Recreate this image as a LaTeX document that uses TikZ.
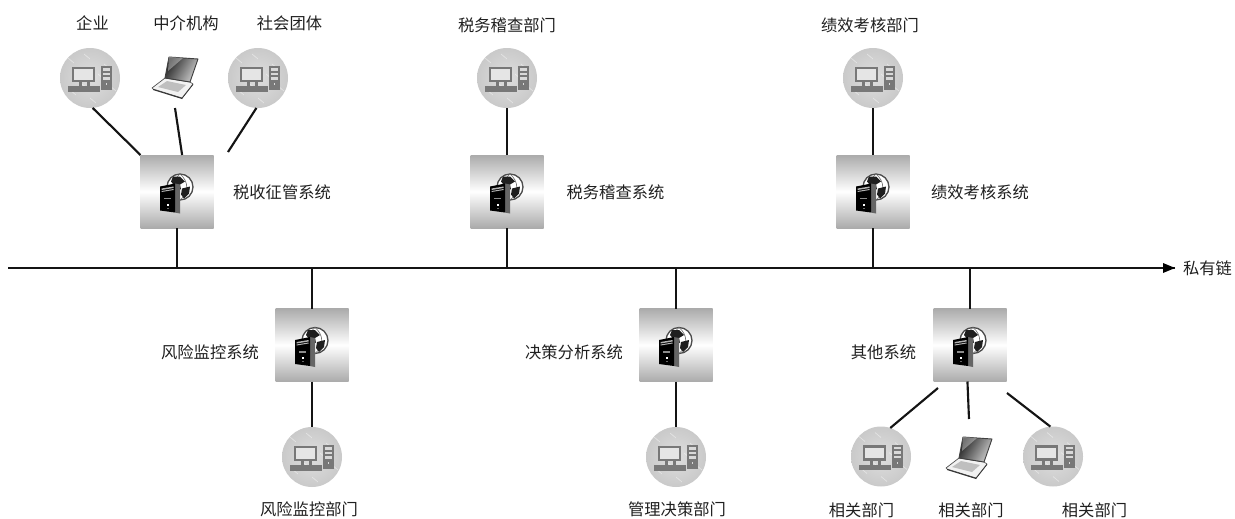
\documentclass[tikz,border=0pt]{standalone}
\usepackage{fontspec}
\setmainfont{Noto Sans CJK SC}
\usetikzlibrary{arrows.meta}
\definecolor{ink}{gray}{0.12}
\definecolor{iconc}{gray}{0.47}
\tikzset{
  x=0.75pt,y=-0.75pt,
  link/.style={line width=1.6pt,color=black!92},
  lbl/.style={font=\fontsize{12.2}{14}\selectfont,text=ink,inner sep=0pt},
  srvbox/.style={rectangle,minimum width=54.75pt,minimum height=54.75pt,inner sep=0pt,outer sep=0pt,
    top color=black!33,bottom color=black!33,middle color=white},
  pcbox/.style={circle,minimum size=45pt,inner sep=0pt,outer sep=0pt,inner color=black!13,outer color=black!21},
  lapbox/.style={rectangle,minimum width=34.5pt,minimum height=45pt,inner sep=0pt,outer sep=0pt},
  pics/servericon/.style={code={
    \fill[white] (3,-4.5) circle (13);
    \draw[black!70,line width=1pt] (3,-4.5) circle (13);
    \draw[black!55,line width=.5pt] (3,-17.5) .. controls (-6,-10) and (-6,1) .. (3,8.5);
    \draw[black!55,line width=.5pt] (3,-17.5) .. controls (12,-10) and (12,1) .. (3,8.5);
    \fill[black!88] (-4,-15) -- (3,-15) -- (8,-10) -- (3,-7) -- (4,-2) -- (-1,-4) -- (-6,-10) -- cycle;
    \fill[black!88] (5,-3) -- (13,-5) -- (12,2) -- (7,7) -- (4,3) -- cycle;
    \fill[black!60] (-2,-8) -- (3,-7) -- (3,22) -- (-2,21) -- cycle;
    \fill[black] (-17,-5) -- (-2,-8) -- (-2,21) -- (-17,19) -- cycle;
    \fill[black!30] (-15.5,-3) -- (-3.5,-5) -- (-3.5,-3.5) -- (-15.5,-1.5) -- cycle;
    \fill[black!30] (-15.5,-0.5) -- (-3.5,-2.5) -- (-3.5,-1.5) -- (-15.5,0.5) -- cycle;
    \fill[black!45] (-13,6) rectangle (-6,7.5);
    \fill[white] (-10.5,12) rectangle (-8.5,14);
    \fill[black!60] (-10.5,16) rectangle (-8.5,17);
  }},
  pics/pcicon/.style={code={
    \foreach \a/\b in {-22/-20,-6/-24,14/-14,20/8,-20/12,0/20,-8/6,8/-4}{
      \draw[white,opacity=.45,line width=.5pt] (\a,\b) -- ++(6,5);}
    \draw[iconc,fill=black!10,line width=2pt] (-17,-10) rectangle (4,3);
    \fill[iconc] (-11,4) rectangle (-8,8);
    \fill[iconc] (-3,4) rectangle (0,8);
    \fill[iconc] (-22,8) rectangle (10,13.5);
    \fill[iconc] (11,-12) rectangle (21.5,11.5);
    \fill[black!15] (13,-10) rectangle (19.5,-7.5);
    \fill[black!15] (13,-5.5) rectangle (19.5,-3);
    \fill[black!15] (13,-1) rectangle (19.5,1.5);
    \fill[black!15] (15.5,5) rectangle (17,7);
  }},
  pics/lapicon/.style={code={
    \draw[black!70,fill=black!5,line width=.5pt,line join=round]
      (-10,0) -- (-23,10) -- (-22,11) -- (7,20) -- (18,6) -- (15,4) -- cycle;
    \fill[black!80] (-22,11) -- (7,20) -- (7,21) -- (-22,12) -- cycle;
    \fill[black!80] (7,20) -- (18,6) -- (18,7) -- (7,21) -- cycle;
    \fill[black!25] (-17,9) -- (-8,3) -- (11,7) -- (3,14) -- cycle;
    \draw[black!75,line width=.7pt,line join=round,left color=black!85,right color=black!20,shading angle=60]
      (-6,-21) -- (23,-19) -- (15,4) -- (-10,0) -- cycle;
    \fill[white,opacity=.35] (-6,-21) -- (8,-20) -- (-7,-7) -- cycle;
  }}
}
\begin{document}
\begin{tikzpicture}
\useasboundingbox (0,0) rectangle (1235,518);
% bus
\coordinate (busL) at (8,268);
\coordinate (busR) at (1175,268);
% servers
\node[srvbox] (s1) at (177,191.5) {};
\node[srvbox] (s2) at (507,191.5) {};
\node[srvbox] (s3) at (873,191.5) {};
\node[srvbox] (s4) at (312,345) {};
\node[srvbox] (s5) at (676,345) {};
\node[srvbox] (s6) at (970,345) {};
\foreach \n in {s1,s2,s3,s4,s5,s6}{ \pic at (\n) {servericon}; }
% terminals
\node[pcbox] (p1) at (90,78) {};
\node[lapbox] (l1) at (175,78) {};
\node[pcbox] (p3) at (258,78) {};
\node[pcbox] (p4) at (507,78) {};
\node[pcbox] (p5) at (873,78) {};
\node[pcbox] (p6) at (312,457) {};
\node[pcbox] (p7) at (676,457) {};
\node[pcbox] (p8) at (881,456.5) {};
\node[lapbox] (l2) at (969,458) {};
\node[pcbox] (p9) at (1053,456.5) {};
\foreach \n in {p1,p3,p4,p5,p6,p7,p8,p9}{ \pic at (\n) {pcicon}; }
\foreach \n in {l1,l2}{ \pic at (\n) {lapicon}; }
% free ends
\coordinate (e3) at (228,152);
\coordinate (e8) at (938,388);
\coordinate (el2) at (969,419);
\coordinate (e9) at (1007,393);
% connectors
\draw[link] (busL) -- (busR);
\fill[black] (busR) -- ++(-12,-5) -- ++(0,10) -- cycle;
\draw[link] (p1.-85) -- (s1.north west);
\draw[link] (l1.south) -- (s1.82);
\draw[link] (p3.-93) -- (e3);
\draw[link] (p4.south) -- (s2.north);
\draw[link] (p5.south) -- (s3.north);
\foreach \n in {s1,s2,s3}{ \draw[link] (\n.south) -- (\n.south |- busL); }
\foreach \n in {s4,s5,s6}{ \draw[link] (\n.north) -- (\n.north |- busL); }
\draw[link] (s4.south) -- (p6.north);
\draw[link] (s5.south) -- (p7.north);
\draw[link] (e8) -- (p8.72);
\draw[link] (s6.-94) -- (el2);
\draw[link] (e9) -- (p9.95);
% labels
\node[lbl] (t1) at (92.5,23) {企业};
\node[lbl] (t2) at (186,23) {中介机构};
\node[lbl] (t3) at (289.5,23) {社会团体};
\node[lbl] (t4) at (507,25) {税务稽查部门};
\node[lbl] (t5) at (870,25) {绩效考核部门};
\node[lbl] (t6) at (282,192) {税收征管系统};
\node[lbl] (t7) at (615.5,192) {税务稽查系统};
\node[lbl] (t8) at (980,192) {绩效考核系统};
\node[lbl] (t9) at (1207.5,268) {私有链};
\node[lbl] (t10) at (210,352) {风险监控系统};
\node[lbl] (t11) at (574,352) {决策分析系统};
\node[lbl] (t12) at (883.5,352) {其他系统};
\node[lbl] (t13) at (309,509) {风险监控部门};
\node[lbl] (t14) at (677,509) {管理决策部门};
\node[lbl] (t15) at (861.5,510) {相关部门};
\node[lbl] (t16) at (971,510) {相关部门};
\node[lbl] (t17) at (1094.5,510) {相关部门};
\end{tikzpicture}
\end{document}
